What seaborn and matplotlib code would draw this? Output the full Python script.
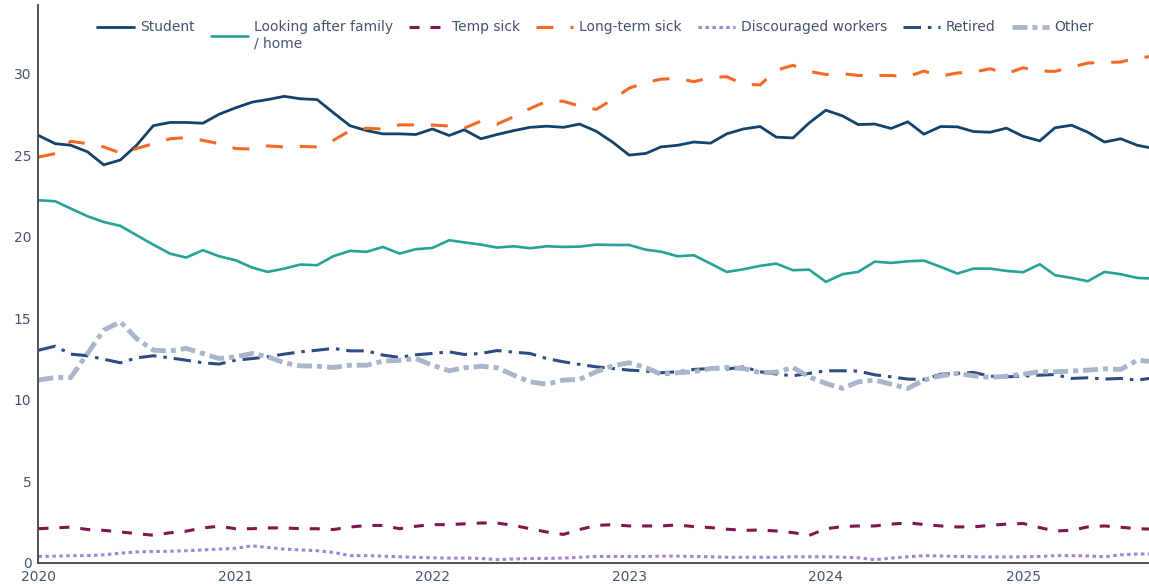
import matplotlib
matplotlib.use("Agg")
import matplotlib.pyplot as plt
import seaborn as sns
import pandas as pd

# Monthly series, January 2020 to September 2025 (percent of economically inactive)
start_month = "2020-01-01"

student = [26.2, 25.7, 25.6, 25.2, 24.4, 24.7, 25.6, 26.8, 27.0, 27.0, 26.95, 27.5,
           27.9, 28.25, 28.4, 28.6, 28.45, 28.4, 27.6, 26.8, 26.5, 26.3, 26.3, 26.26,
           26.6, 26.2, 26.55, 26.0, 26.26, 26.5, 26.7, 26.77, 26.7, 26.9, 26.46, 25.8,
           25.0, 25.1, 25.5, 25.6, 25.8, 25.73, 26.3, 26.6, 26.75, 26.1, 26.05, 26.97,
           27.75, 27.4, 26.87, 26.9, 26.63, 27.04, 26.28, 26.75, 26.73, 26.44, 26.4, 26.65,
           26.15, 25.87, 26.67, 26.83, 26.4, 25.8, 26.0, 25.6, 25.4]

family_home = [22.23, 22.17, 21.72, 21.25, 20.9, 20.66, 20.09, 19.51, 18.96, 18.72, 19.17, 18.8,
               18.55, 18.1, 17.84, 18.04, 18.29, 18.25, 18.8, 19.13, 19.07, 19.37, 18.96, 19.23,
               19.31, 19.78, 19.65, 19.51, 19.33, 19.41, 19.29, 19.41, 19.37, 19.39, 19.51, 19.49,
               19.49, 19.2, 19.08, 18.8, 18.86, 18.35, 17.84, 18.0, 18.21, 18.35, 17.94, 17.98,
               17.23, 17.7, 17.84, 18.47, 18.39, 18.49, 18.53, 18.15, 17.74, 18.04, 18.04, 17.9,
               17.82, 18.31, 17.64, 17.47, 17.27, 17.84, 17.7, 17.47, 17.43]

temp_sick = [2.1, 2.15, 2.2, 2.05, 2.0, 1.9, 1.8, 1.7, 1.85, 1.95, 2.15, 2.25,
             2.1, 2.1, 2.15, 2.15, 2.1, 2.1, 2.05, 2.2, 2.3, 2.3, 2.1, 2.25,
             2.35, 2.35, 2.4, 2.45, 2.45, 2.3, 2.1, 1.9, 1.75, 2.05, 2.3, 2.35,
             2.27, 2.27, 2.27, 2.33, 2.23, 2.17, 2.07, 2.0, 2.02, 1.96, 1.86, 1.69,
             2.1, 2.23, 2.27, 2.27, 2.38, 2.46, 2.36, 2.27, 2.21, 2.21, 2.31, 2.38,
             2.42, 2.17, 1.96, 2.0, 2.21, 2.27, 2.19, 2.1, 2.07]

long_term_sick = [24.88, 25.09, 25.84, 25.7, 25.5, 25.13, 25.4, 25.7, 26.0, 26.07, 25.9, 25.7,
                  25.4, 25.37, 25.56, 25.5, 25.53, 25.5, 25.9, 26.5, 26.64, 26.6, 26.85, 26.85,
                  26.84, 26.78, 26.65, 27.08, 26.9, 27.35, 27.85, 28.3, 28.3, 28.0, 27.8, 28.4,
                  29.1, 29.45, 29.65, 29.7, 29.5, 29.75, 29.8, 29.35, 29.3, 30.2, 30.5, 30.13,
                  29.94, 29.99, 29.88, 29.88, 29.88, 29.8, 30.15, 29.84, 30.03, 30.09, 30.29, 29.99,
                  30.35, 30.15, 30.13, 30.39, 30.64, 30.68, 30.7, 30.97, 31.05]

discouraged = [0.4, 0.42, 0.45, 0.45, 0.5, 0.6, 0.68, 0.7, 0.72, 0.75, 0.8, 0.85,
               0.9, 1.05, 0.95, 0.85, 0.8, 0.75, 0.65, 0.45, 0.45, 0.42, 0.38, 0.35,
               0.32, 0.3, 0.3, 0.28, 0.2, 0.25, 0.27, 0.28, 0.3, 0.35, 0.4, 0.4,
               0.4, 0.4, 0.42, 0.42, 0.4, 0.38, 0.35, 0.35, 0.35, 0.35, 0.38, 0.38,
               0.38, 0.35, 0.32, 0.2, 0.3, 0.38, 0.45, 0.43, 0.4, 0.38, 0.37, 0.37,
               0.38, 0.4, 0.45, 0.45, 0.43, 0.38, 0.5, 0.55, 0.55]

retired = [13.04, 13.29, 12.8, 12.7, 12.49, 12.27, 12.57, 12.7, 12.57, 12.43, 12.27, 12.19,
           12.43, 12.53, 12.64, 12.8, 12.94, 13.04, 13.15, 13.0, 13.0, 12.74, 12.6, 12.76,
           12.84, 12.94, 12.78, 12.84, 13.02, 12.92, 12.84, 12.53, 12.33, 12.17, 12.02, 11.92,
           11.82, 11.76, 11.66, 11.72, 11.86, 11.92, 11.88, 12.02, 11.72, 11.58, 11.47, 11.62,
           11.78, 11.78, 11.76, 11.53, 11.41, 11.27, 11.25, 11.57, 11.62, 11.68, 11.45, 11.41,
           11.45, 11.51, 11.55, 11.31, 11.35, 11.27, 11.31, 11.21, 11.35]

other = [11.21, 11.37, 11.37, 12.84, 14.27, 14.78, 13.76, 13.04, 13.0, 13.15, 12.84, 12.53,
         12.64, 12.84, 12.64, 12.27, 12.08, 12.06, 11.98, 12.12, 12.12, 12.37, 12.42, 12.53,
         12.12, 11.78, 11.96, 12.06, 11.96, 11.51, 11.1, 10.96, 11.21, 11.25, 11.72, 12.08,
         12.27, 11.98, 11.57, 11.66, 11.72, 11.92, 11.98, 11.92, 11.66, 11.7, 11.98, 11.41,
         11.0, 10.7, 11.1, 11.21, 10.96, 10.7, 11.21, 11.47, 11.62, 11.47, 11.37, 11.45,
         11.57, 11.72, 11.72, 11.76, 11.82, 11.9, 11.86, 12.43, 12.33]

series_names = ["Student", "Looking after family\n/ home", "Temp sick", "Long-term sick",
                "Discouraged workers", "Retired", "Other"]
series_values = [student, family_home, temp_sick, long_term_sick, discouraged, retired, other]

year_ticks = ["2020", "2021", "2022", "2023", "2024", "2025"]
y_ticks = [0, 5, 10, 15, 20, 25, 30]

# Line styles: colour, width (pt), dash pattern (pt)
styles = {
    "Student": ("#12436D", 2.0, None),
    "Looking after family\n/ home": ("#28A197", 1.9, None),
    "Temp sick": ("#801650", 2.2, (7.2, 7.9)),
    "Long-term sick": ("#F46A25", 2.2, (12.2, 12.2)),
    "Discouraged workers": ("#A285D1", 2.2, (2.5, 2.5)),
    "Retired": ("#2D4C84", 2.2, (12.6, 5.0, 2.5, 5.0)),
    "Other": ("#A9B5CA", 3.5, (10.8, 3.6, 3.6, 3.6)),
}

text_color = "#44546f"

dates = pd.date_range(start_month, periods=len(student), freq="MS")
frames = [pd.DataFrame({"date": dates, "value": vals, "series": name})
          for name, vals in zip(series_names, series_values)]
df = pd.concat(frames, ignore_index=True)

sns.set_style("white")
plt.rcParams["font.family"] = ["DejaVu Sans"]
plt.rcParams["lines.scale_dashes"] = False

fig = plt.figure(figsize=(11.49, 5.84), dpi=100)
ax = fig.add_axes([0.0335, 0.0360, 0.9709, 0.9555])

for name in series_names:
    color, lw, dash = styles[name]
    ls = "-" if dash is None else (0, dash)
    sns.lineplot(data=df[df["series"] == name], x="date", y="value", ax=ax,
                 color=color, linewidth=lw, linestyle=ls, label=name,
                 dash_capstyle="butt", solid_joinstyle="round")

ax.set_xlim(dates[0], dates[-1])
ax.set_ylim(0, 34.2)
ax.set_xlabel("")
ax.set_ylabel("")

ax.set_xticks(pd.to_datetime([f"{y}-01-01" for y in year_ticks]))
ax.set_xticklabels(year_ticks)
ax.set_yticks(y_ticks)
ax.set_yticklabels([str(v) for v in y_ticks])
ax.tick_params(axis="both", length=0, labelsize=10, colors=text_color)
ax.tick_params(axis="x", pad=5)
ax.tick_params(axis="y", pad=5)

for side in ["top", "right"]:
    ax.spines[side].set_visible(False)
for side in ["left", "bottom"]:
    ax.spines[side].set_color("#444444")
    ax.spines[side].set_linewidth(1.3)

leg = ax.legend(ncol=7, loc="upper left", bbox_to_anchor=(0.0844, 0.965),
                bbox_transform=fig.transFigure, frameon=False, fontsize=10,
                handlelength=2.7, handletextpad=0.4, columnspacing=1.15,
                borderpad=0, borderaxespad=0, labelcolor=text_color)
leg._legend_handle_box.align = "top"

fig.savefig("out.png", dpi=100)
